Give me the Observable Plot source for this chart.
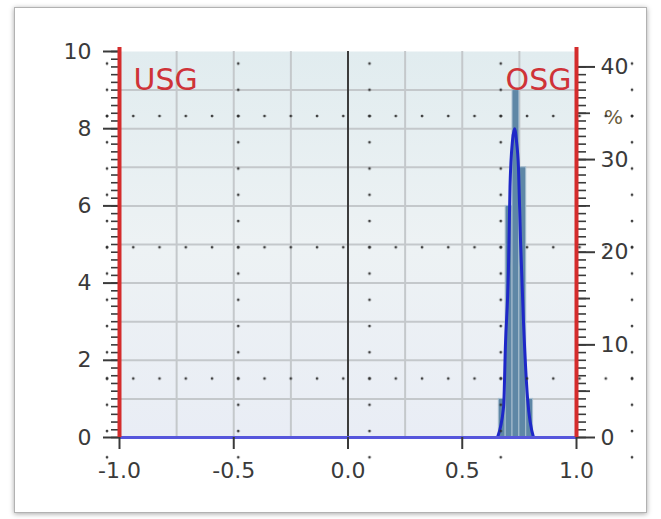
<!DOCTYPE html>
<html><head><meta charset="utf-8">
<script src="https://cdn.jsdelivr.net/npm/d3@7"></script>
<script src="https://cdn.jsdelivr.net/npm/@observablehq/plot@0.6"></script>
<style>
html,body{margin:0;padding:0;background:#fff;}
#stage{position:relative;width:661px;height:519px;overflow:hidden;background:#fff;}
#box{position:absolute;left:14px;top:7px;width:631px;height:504px;border:1px solid #b2b2b2;box-shadow:0 1px 5px rgba(0,0,0,.35);background:#fff;}
#chart{position:absolute;left:0;top:47px;}
#dots{position:absolute;left:100px;top:56px;width:540px;height:410px;pointer-events:none;
  background-image:
    radial-gradient(circle at 2px 2px, rgba(45,45,45,.9) 0, rgba(45,45,45,.9) 1.1px, rgba(45,45,45,0) 1.7px),
    radial-gradient(circle at 2px 2px, rgba(45,45,45,.9) 0, rgba(45,45,45,.9) 1.1px, rgba(45,45,45,0) 1.7px);
  background-size:131.25px 26.25px, 26.25px 131.25px;
  background-position:5px 5.5px, 5px 58px;
  background-repeat:repeat, repeat;}
</style></head><body>
<div id="stage"><div id="box"></div><div id="chart"></div><div id="dots"></div></div>
<script>
// histogram bins (x in [-1,1]) and counts
const binStart = [0.66, 0.69, 0.72, 0.75, 0.78];
const binEnd   = [0.69, 0.72, 0.75, 0.78, 0.81];
const binCount = [1, 6, 9, 7, 1];
// fitted curve
const curveX = [0.654, 0.681, 0.689, 0.702, 0.709, 0.720, 0.729, 0.737, 0.746, 0.755, 0.768, 0.786, 0.812];
const curveY = [0, 0.8, 2.4, 4.3, 6.5, 7.7, 8.0, 7.7, 7.0, 5.1, 3.0, 1.0, 0];
// axes
const xTicks = [-1, -0.5, 0, 0.5, 1];
const xGrid = [-0.75, -0.5, -0.25, 0.25, 0.5, 0.75];
const yTicks = [0, 2, 4, 6, 8, 10];
const yGrid = [1, 2, 3, 4, 5, 6, 7, 8, 9];
const pctTicks = [0, 10, 20, 30, 40];
const pctMid = [5, 15, 25, 35];
const groupLabels = ["USG", "OSG"];
const unitLabel = "%";

const total = d3.sum(binCount);
const bins = binStart.map((s, i) => ({x1: s, x2: binEnd[i], count: binCount[i]}));
const curve = curveX.map((x, i) => ({x, y: curveY[i]}));
const minor = d3.range(0, 10.001, 0.2).map(v => +v.toFixed(2));
const blank = () => "";

const svg = Plot.plot({
  width: 661, height: 440,
  marginLeft: 119, marginRight: 85, marginTop: 4, marginBottom: 50,
  x: {domain: [-1, 1]},
  y: {domain: [0, 10]},
  style: {background: "transparent", overflow: "visible", fontFamily: "DejaVu Sans", fontSize: "22px", color: "#3a3a3a"},
  marks: [
    Plot.frame({fill: "url(#plotbg)", stroke: "none"}),
    Plot.gridX(xGrid, {stroke: "#c4c8cb", strokeOpacity: 1, strokeWidth: 2}),
    Plot.gridY(yGrid, {stroke: "#c4c8cb", strokeOpacity: 1, strokeWidth: 2}),
    Plot.ruleX([0], {stroke: "#3c3c3c", strokeWidth: 2}),
    Plot.rectY(bins, {x1: "x1", x2: "x2", y: "count", fill: "#5e87a6", stroke: "#a9bfd0", strokeWidth: 1}),
    Plot.line(curve, {x: "x", y: "y", curve: "monotone-x", stroke: "#1e28c8", strokeWidth: 3}),
    Plot.ruleY([0], {stroke: "#5656dc", strokeWidth: 3}),
    // axes
    Plot.axisX(xTicks, {anchor: "bottom", tickSize: 12, tickPadding: 13, strokeWidth: 2, label: null, tickFormat: d => d3.format(".1f")(d).replace("−", "-")}),
    Plot.axisY(yTicks, {anchor: "left", tickSize: 16, tickPadding: 12, strokeWidth: 2, label: null}),
    Plot.axisY(minor, {anchor: "left", tickSize: 8, strokeWidth: 1.6, label: null, tickFormat: blank}),
    Plot.axisY(pctTicks.map(p => p / 100 * total), {anchor: "right", tickSize: 18, tickPadding: 6, strokeWidth: 2, label: null, tickFormat: d => String(Math.round(d / total * 100))}),
    Plot.axisY(pctMid.map(p => p / 100 * total), {anchor: "right", tickSize: 13, strokeWidth: 1.8, label: null, tickFormat: blank}),
    Plot.axisY(minor.filter(v => v <= 40 / 100 * total + 1e-9), {anchor: "right", tickSize: 9, strokeWidth: 1.6, label: null, tickFormat: blank}),
    Plot.ruleX([-1, 1], {stroke: "#d42c2c", strokeWidth: 4, insetTop: -4}),
    Plot.text([groupLabels[0]], {text: d => d, frameAnchor: "top-left", dx: 14, dy: 29, textAnchor: "start", lineAnchor: "middle", fontSize: 30, fill: "#cf3338"}),
    Plot.text([groupLabels[1]], {text: d => d, frameAnchor: "top-right", dx: -5, dy: 29, textAnchor: "end", lineAnchor: "middle", fontSize: 30, fill: "#cf3338"}),
    Plot.text([unitLabel], {text: d => d, frameAnchor: "top-right", dx: 37, dy: 66, textAnchor: "middle", lineAnchor: "middle", fontSize: 20, fill: "#6a5c3c"})
  ]
});
const ns = "http://www.w3.org/2000/svg";
const defs = document.createElementNS(ns, "defs");
defs.innerHTML = '<linearGradient id="plotbg" x1="0" y1="0" x2="0" y2="1"><stop offset="0" stop-color="#e1ecef"/><stop offset="0.5" stop-color="#edf2f4"/><stop offset="1" stop-color="#e9edf5"/></linearGradient>';
svg.insertBefore(defs, svg.firstChild);
document.getElementById("chart").appendChild(svg);
</script>
</body></html>
